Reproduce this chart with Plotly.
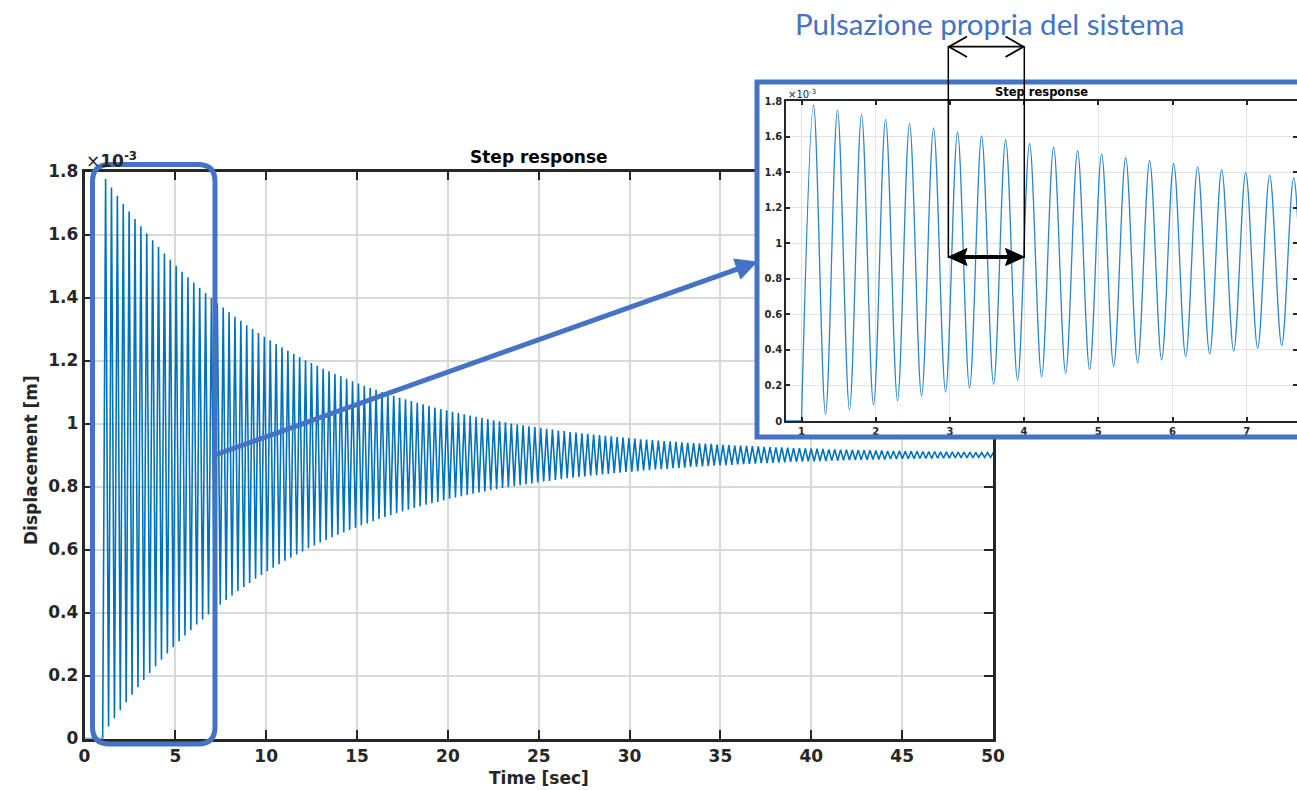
import math
import plotly.graph_objects as go

W, H = 1297, 790

# ---------------- data (displacement in units of 1e-3 m) ----------------
t_start = [0.0, 1.0]
d_start = [0.0, 0.0]

# times of successive extrema (peak, trough, peak, ...)
t_ext = [
    1.162, 1.324, 1.485, 1.647, 1.809, 1.971, 2.133, 2.294, 2.456, 2.618,
    2.780, 2.942, 3.103, 3.265, 3.427, 3.589, 3.751, 3.912, 4.074, 4.236,
    4.398, 4.560, 4.721, 4.883, 5.045, 5.207, 5.369, 5.530, 5.692, 5.854,
    6.016, 6.178, 6.339, 6.501, 6.663, 6.825, 6.987, 7.148, 7.310, 7.472,
    7.634, 7.796, 7.957, 8.119, 8.281, 8.443, 8.605, 8.766, 8.928, 9.090,
    9.252, 9.414, 9.575, 9.737, 9.899, 10.061, 10.223, 10.384, 10.546, 10.708,
    10.870, 11.032, 11.193, 11.355, 11.517, 11.679, 11.841, 12.002, 12.164, 12.326,
    12.488, 12.650, 12.811, 12.973, 13.135, 13.297, 13.459, 13.620, 13.782, 13.944,
    14.106, 14.268, 14.429, 14.591, 14.753, 14.915, 15.077, 15.238, 15.400, 15.562,
    15.724, 15.886, 16.047, 16.209, 16.371, 16.533, 16.695, 16.856, 17.018, 17.180,
    17.342, 17.504, 17.665, 17.827, 17.989, 18.151, 18.313, 18.474, 18.636, 18.798,
    18.960, 19.122, 19.283, 19.445, 19.607, 19.769, 19.931, 20.092, 20.254, 20.416,
    20.578, 20.740, 20.901, 21.063, 21.225, 21.387, 21.549, 21.710, 21.872, 22.034,
    22.196, 22.358, 22.519, 22.681, 22.843, 23.005, 23.167, 23.328, 23.490, 23.652,
    23.814, 23.976, 24.137, 24.299, 24.461, 24.623, 24.785, 24.946, 25.108, 25.270,
    25.432, 25.594, 25.755, 25.917, 26.079, 26.241, 26.403, 26.564, 26.726, 26.888,
    27.050, 27.212, 27.373, 27.535, 27.697, 27.859, 28.021, 28.182, 28.344, 28.506,
    28.668, 28.830, 28.991, 29.153, 29.315, 29.477, 29.639, 29.800, 29.962, 30.124,
    30.286, 30.448, 30.609, 30.771, 30.933, 31.095, 31.257, 31.418, 31.580, 31.742,
    31.904, 32.066, 32.227, 32.389, 32.551, 32.713, 32.875, 33.036, 33.198, 33.360,
    33.522, 33.684, 33.845, 34.007, 34.169, 34.331, 34.493, 34.654, 34.816, 34.978,
    35.140, 35.302, 35.463, 35.625, 35.787, 35.949, 36.111, 36.272, 36.434, 36.596,
    36.758, 36.920, 37.081, 37.243, 37.405, 37.567, 37.729, 37.890, 38.052, 38.214,
    38.376, 38.538, 38.699, 38.861, 39.023, 39.185, 39.347, 39.508, 39.670, 39.832,
    39.994, 40.156, 40.317, 40.479, 40.641, 40.803, 40.965, 41.126, 41.288, 41.450,
    41.612, 41.774, 41.935, 42.097, 42.259, 42.421, 42.583, 42.744, 42.906, 43.068,
    43.230, 43.392, 43.553, 43.715, 43.877, 44.039, 44.201, 44.362, 44.524, 44.686,
    44.848, 45.010, 45.171, 45.333, 45.495, 45.657, 45.819, 45.980, 46.142, 46.304,
    46.466, 46.628, 46.789, 46.951, 47.113, 47.275, 47.437, 47.598, 47.760, 47.922,
    48.084, 48.246, 48.407, 48.569, 48.731, 48.893, 49.055, 49.216, 49.378, 49.540,
    49.702, 49.864, 50.025,
]

# displacement at those extrema [x1e-3 m]
d_ext = [
    1.776, 0.038, 1.749, 0.064, 1.723, 0.090, 1.697, 0.115, 1.673,
    0.139, 1.649, 0.163, 1.626, 0.186, 1.603, 0.208, 1.582, 0.229, 1.560,
    0.250, 1.540, 0.270, 1.520, 0.290, 1.501, 0.308, 1.482, 0.327, 1.464,
    0.344, 1.447, 0.362, 1.430, 0.378, 1.414, 0.394, 1.398, 0.410, 1.382,
    0.425, 1.368, 0.440, 1.353, 0.454, 1.339, 0.468, 1.326, 0.481, 1.312,
    0.494, 1.300, 0.507, 1.287, 0.519, 1.275, 0.531, 1.264, 0.542, 1.252,
    0.553, 1.242, 0.564, 1.231, 0.574, 1.221, 0.584, 1.211, 0.594, 1.201,
    0.604, 1.192, 0.613, 1.183, 0.622, 1.174, 0.630, 1.166, 0.639, 1.157,
    0.647, 1.150, 0.654, 1.142, 0.662, 1.134, 0.669, 1.127, 0.676, 1.120,
    0.683, 1.113, 0.690, 1.107, 0.697, 1.100, 0.703, 1.094, 0.709, 1.088,
    0.715, 1.082, 0.721, 1.077, 0.726, 1.071, 0.732, 1.066, 0.737, 1.061,
    0.742, 1.056, 0.747, 1.051, 0.751, 1.046, 0.756, 1.042, 0.761, 1.037,
    0.765, 1.033, 0.769, 1.029, 0.773, 1.025, 0.777, 1.021, 0.781, 1.017,
    0.784, 1.014, 0.788, 1.010, 0.791, 1.007, 0.795, 1.004, 0.798, 1.000,
    0.801, 0.997, 0.804, 0.994, 0.807, 0.991, 0.810, 0.989, 0.813, 0.986,
    0.816, 0.983, 0.818, 0.981, 0.821, 0.978, 0.823, 0.976, 0.826, 0.973,
    0.828, 0.971, 0.830, 0.969, 0.832, 0.967, 0.834, 0.965, 0.836, 0.963,
    0.838, 0.961, 0.840, 0.959, 0.842, 0.957, 0.844, 0.955, 0.846, 0.954,
    0.847, 0.952, 0.849, 0.950, 0.851, 0.949, 0.852, 0.947, 0.854, 0.946,
    0.855, 0.944, 0.856, 0.943, 0.858, 0.942, 0.859, 0.940, 0.860, 0.939,
    0.862, 0.938, 0.863, 0.937, 0.864, 0.936, 0.865, 0.935, 0.866, 0.933,
    0.867, 0.932, 0.868, 0.931, 0.869, 0.930, 0.870, 0.930, 0.871, 0.929,
    0.872, 0.928, 0.873, 0.927, 0.874, 0.926, 0.874, 0.925, 0.875, 0.924,
    0.876, 0.924, 0.877, 0.923, 0.878, 0.922, 0.878, 0.922, 0.879, 0.921,
    0.880, 0.920, 0.880, 0.920, 0.881, 0.919, 0.881, 0.918, 0.882, 0.918,
    0.882, 0.917, 0.883, 0.917, 0.884, 0.916, 0.884, 0.916, 0.885, 0.915,
    0.885, 0.915, 0.886, 0.914, 0.886, 0.914, 0.886, 0.913, 0.887, 0.913,
    0.887, 0.913, 0.888, 0.912, 0.888, 0.912, 0.888, 0.912, 0.889, 0.911,
    0.889, 0.911, 0.889, 0.911, 0.890, 0.910, 0.890, 0.910, 0.890, 0.910,
    0.891, 0.909, 0.891, 0.909, 0.891, 0.909, 0.891, 0.908, 0.892, 0.908,
    0.892, 0.908, 0.892, 0.908,
]

time_s = t_start + t_ext
disp_e3 = d_start + d_ext

main_xticks = [0, 5, 10, 15, 20, 25, 30, 35, 40, 45, 50]
yticks = [0, 0.2, 0.4, 0.6, 0.8, 1.0, 1.2, 1.4, 1.6, 1.8]
ytick_text = ["0", "0.2", "0.4", "0.6", "0.8", "1", "1.2", "1.4", "1.6", "1.8"]
inset_xticks = [1, 2, 3, 4, 5, 6, 7]

# ---------------- helpers ----------------
def px(x):
    return x / W

def py(y):
    return 1 - y / H

def path_px(cmds):
    out = []
    for c in cmds:
        if isinstance(c, str):
            out.append(c)
        else:
            out.append(f"{px(c[0]):.5f},{py(c[1]):.5f}")
    return " ".join(out)

DARK = "#262626"
FRAME_BLUE = "#4472C4"
LINE_BLUE = "#0072BD"
INSET_BLUE = "#2a86cc"
FONT = "DejaVu Sans"

fig = go.Figure()

fig.add_trace(go.Scatter(x=time_s, y=disp_e3, mode="lines",
                         line=dict(color=LINE_BLUE, width=1.6),
                         xaxis="x", yaxis="y", showlegend=False, hoverinfo="skip"))
# white frame subplot (covers the main plot under the inset)
fig.add_trace(go.Scatter(x=[0], y=[0], mode="markers", marker=dict(opacity=0),
                         xaxis="x2", yaxis="y2", showlegend=False, hoverinfo="skip"))
# inset: flat part before the step, then the smooth oscillation
fig.add_trace(go.Scatter(x=t_start, y=d_start, mode="lines",
                         line=dict(color=INSET_BLUE, width=1.3),
                         xaxis="x3", yaxis="y3", showlegend=False, hoverinfo="skip"))
fig.add_trace(go.Scatter(x=time_s[1:], y=disp_e3[1:], mode="lines",
                         line=dict(color=INSET_BLUE, width=1.3, shape="spline"),
                         xaxis="x3", yaxis="y3", showlegend=False, hoverinfo="skip"))

main_tick = dict(family=FONT, size=17, color=DARK, weight="bold")
inset_tick = dict(family=FONT, size=10, color=DARK, weight="bold")

fig.update_layout(
    width=W, height=H,
    margin=dict(l=0, r=0, t=0, b=0, autoexpand=False),
    paper_bgcolor="white", plot_bgcolor="white",
    xaxis=dict(domain=[px(84.5), px(993)], range=[0, 50], tickvals=main_xticks,
               ticks="inside", ticklen=9, tickwidth=2, tickcolor=DARK,
               showline=True, linewidth=2.5, linecolor=DARK, mirror="ticks",
               showgrid=True, gridcolor="#d9d9d9", gridwidth=2, zeroline=False,
               tickfont=main_tick, anchor="y", automargin=False),
    yaxis=dict(domain=[py(738.5), py(171.5)], range=[0, 1.8], tickvals=yticks,
               ticktext=ytick_text,
               ticks="inside", ticklen=9, tickwidth=2, tickcolor=DARK,
               showline=True, linewidth=2.5, linecolor=DARK, mirror="ticks",
               showgrid=True, gridcolor="#d9d9d9", gridwidth=2, zeroline=False,
               tickfont=main_tick, anchor="x", automargin=False),
    xaxis2=dict(domain=[px(757), 1.0], range=[0, 1], visible=False, anchor="y2"),
    yaxis2=dict(domain=[py(437), py(82)], range=[0, 1], visible=False, anchor="x2"),
    xaxis3=dict(domain=[px(786), 1.0], range=[0.791, 7.678], tickvals=inset_xticks,
                ticks="inside", ticklen=4, tickwidth=1.5, tickcolor=DARK,
                showline=True, linewidth=1.5, linecolor=DARK, mirror="ticks",
                showgrid=True, gridcolor="#e2e2e2", gridwidth=1, zeroline=False,
                tickfont=inset_tick, anchor="y3", automargin=False),
    yaxis3=dict(domain=[py(421), py(101)], range=[0, 1.8], tickvals=yticks,
                ticktext=ytick_text,
                ticks="inside", ticklen=4, tickwidth=1.5, tickcolor=DARK,
                showline=True, linewidth=1.5, linecolor=DARK, mirror="ticks",
                showgrid=True, gridcolor="#e2e2e2", gridwidth=1, zeroline=False,
                tickfont=inset_tick, anchor="x3", automargin=False),
)

def label(x, y, text, font, xanchor="center", yanchor="middle", **kw):
    return dict(x=px(x), y=py(y), xref="paper", yref="paper", showarrow=False,
                xanchor=xanchor, yanchor=yanchor, text=text, font=font, **kw)

ann = []
# main texts
ann.append(label(539, 157, "<b>Step response</b>", dict(family=FONT, size=17, color="black")))
ann.append(label(539, 778, "<b>Time [sec]</b>", dict(family=FONT, size=17, color=DARK)))
ann.append(label(31, 460, "<b>Displacement [m]</b>", dict(family=FONT, size=17, color=DARK),
                 textangle=-90))
ann.append(label(84, 160, "×<b>10</b><sup><b>-3</b></sup>",
                 dict(family=FONT, size=17, color=DARK), xanchor="left"))
# inset texts
ann.append(label(1041, 92, "<b>Step response</b>", dict(family=FONT, size=11.5, color="black")))
ann.append(label(786, 94, "×10<sup>-3</sup>", dict(family=FONT, size=10, color=DARK),
                 xanchor="left"))
# big label
ann.append(label(989.5, 23, "Pulsazione propria del sistema",
                 dict(family="Lato", size=29.5, color=FRAME_BLUE)))
fig.update_layout(annotations=ann)

shapes = []
# rounded rectangle around the first seconds
x0, x1, y0, y1, r = 92.5, 215.0, 164.5, 744.0, 17.0
rr = path_px(["M", (x0 + r, y0), "L", (x1 - r, y0), "Q", (x1, y0), (x1, y0 + r),
              "L", (x1, y1 - r), "Q", (x1, y1), (x1 - r, y1),
              "L", (x0 + r, y1), "Q", (x0, y1), (x0, y1 - r),
              "L", (x0, y0 + r), "Q", (x0, y0), (x0 + r, y0), "Z"])
shapes.append(dict(type="path", path=rr, xref="paper", yref="paper",
                   line=dict(color=FRAME_BLUE, width=5), layer="above"))

# blue arrow from the rounded box to the inset (shaft + filled head)
tail = (215.0, 455.0)
tip = (757.0, 262.0)
dx, dy = tip[0] - tail[0], tip[1] - tail[1]
ln = math.hypot(dx, dy)
ux, uy = dx / ln, dy / ln
nx, ny = -uy, ux
hl, hw = 21.0, 10.5
base = (tip[0] - hl * ux, tip[1] - hl * uy)
shaft_end = (tip[0] - (hl - 3) * ux, tip[1] - (hl - 3) * uy)
shapes.append(dict(type="line", xref="paper", yref="paper",
                   x0=px(tail[0]), y0=py(tail[1]), x1=px(shaft_end[0]), y1=py(shaft_end[1]),
                   line=dict(color=FRAME_BLUE, width=5), layer="above"))
shapes.append(dict(type="path", xref="paper", yref="paper",
                   path=path_px(["M", tip, "L", (base[0] + hw * nx, base[1] + hw * ny),
                                 "L", (base[0] - hw * nx, base[1] - hw * ny), "Z"]),
                   fillcolor=FRAME_BLUE, line=dict(color=FRAME_BLUE, width=1), layer="above"))

# inset border
shapes.append(dict(type="rect", xref="paper", yref="paper",
                   x0=px(757), x1=px(1302), y0=py(437), y1=py(82),
                   line=dict(color=FRAME_BLUE, width=5), layer="above"))

# period marker lines
for xv in (948.3, 1024.3):
    shapes.append(dict(type="line", xref="paper", yref="paper",
                       x0=px(xv), x1=px(xv), y0=py(46.7), y1=py(258),
                       line=dict(color="black", width=1.5), layer="above"))
# thin open double arrow at the top
shapes.append(dict(type="line", xref="paper", yref="paper",
                   x0=px(948.3), x1=px(1024.3), y0=py(46.7), y1=py(46.7),
                   line=dict(color="black", width=1.8), layer="above"))
shapes.append(dict(type="path", xref="paper", yref="paper",
                   path=path_px(["M", (967, 36.5), "L", (949, 46.7), "L", (967, 57)]),
                   line=dict(color="black", width=1.8), layer="above"))
shapes.append(dict(type="path", xref="paper", yref="paper",
                   path=path_px(["M", (1005.5, 36.5), "L", (1023.5, 46.7), "L", (1005.5, 57)]),
                   line=dict(color="black", width=1.8), layer="above"))
# bold filled double arrow inside the inset
ya = 257.0
shapes.append(dict(type="line", xref="paper", yref="paper",
                   x0=px(962), x1=px(1010.5), y0=py(ya), y1=py(ya),
                   line=dict(color="black", width=4), layer="above"))
shapes.append(dict(type="path", xref="paper", yref="paper",
                   path=path_px(["M", (948.3, ya), "L", (967, ya - 8.5), "L", (964, ya),
                                 "L", (967, ya + 8.5), "Z"]),
                   fillcolor="black", line=dict(color="black", width=1), layer="above"))
shapes.append(dict(type="path", xref="paper", yref="paper",
                   path=path_px(["M", (1024.3, ya), "L", (1005.5, ya - 8.5), "L", (1008.5, ya),
                                 "L", (1005.5, ya + 8.5), "Z"]),
                   fillcolor="black", line=dict(color="black", width=1), layer="above"))
fig.update_layout(shapes=shapes)

fig.write_html(
    "out.html",
    post_script="document.body.style.margin='0';"
                "document.documentElement.style.overflow='hidden';"
                "document.body.style.overflow='hidden';",
)
